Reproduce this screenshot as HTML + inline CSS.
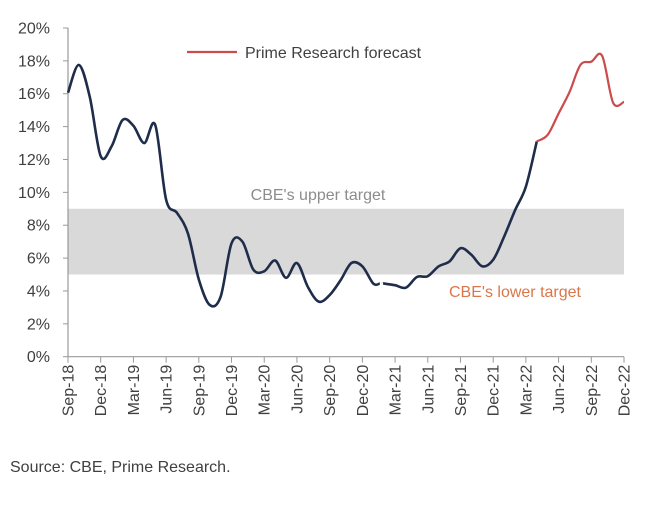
<!DOCTYPE html>
<html><head><meta charset="utf-8"><style>
body{margin:0;background:#fff;font-family:"Liberation Sans",sans-serif}
svg text{font-family:"Liberation Sans",sans-serif}
</style></head><body>
<svg id="c" width="649" height="506" viewBox="0 0 649 506"></svg>
<script>
const months=["Sep-18","Oct-18","Nov-18","Dec-18","Jan-19","Feb-19","Mar-19","Apr-19","May-19","Jun-19","Jul-19","Aug-19","Sep-19","Oct-19","Nov-19","Dec-19","Jan-20","Feb-20","Mar-20","Apr-20","May-20","Jun-20","Jul-20","Aug-20","Sep-20","Oct-20","Nov-20","Dec-20","Jan-21","Feb-21","Mar-21","Apr-21","May-21","Jun-21","Jul-21","Aug-21","Sep-21","Oct-21","Nov-21","Dec-21","Jan-22","Feb-22","Mar-22","Apr-22","May-22","Jun-22","Jul-22","Aug-22","Sep-22","Oct-22","Nov-22","Dec-22"];
const actual=[16.06,17.75,15.8,12.2,12.8,14.4,14.05,13.0,14.1,9.55,8.75,7.5,4.7,3.15,3.65,6.9,7.0,5.3,5.2,5.85,4.8,5.7,4.25,3.35,3.75,4.65,5.7,5.5,4.45,4.45,4.35,4.2,4.85,4.9,5.5,5.8,6.6,6.2,5.5,5.9,7.3,8.9,10.35,13.1];
const forecast=[13.1,13.5,14.8,16.1,17.75,17.95,18.3,15.45,15.5];
const forecastStart=43;
const yTicks=[0,2,4,6,8,10,12,14,16,18,20];
const xLabelIdx=[0,3,6,9,12,15,18,21,24,27,30,33,36,39,42,45,48,51];
const bandLow=5, bandHigh=9;
const gapAfter=28;

const NS="http://www.w3.org/2000/svg";
const svg=document.getElementById('c');
const x0=68,x1=624,y0=356.7,y1=28;
const X=i=>x0+(x1-x0)*i/(months.length-1);
const Y=v=>y0-(y0-y1)*v/20;
function mk(t,a,p){const e=document.createElementNS(NS,t);for(const k in a)e.setAttribute(k,a[k]);(p||svg).appendChild(e);return e;}
function smooth(pts){let d=`M${pts[0][0]},${pts[0][1]}`;for(let i=0;i<pts.length-1;i++){const p0=pts[i-1]||pts[i],p1=pts[i],p2=pts[i+1],p3=pts[i+2]||p2;
d+=` C${p1[0]+(p2[0]-p0[0])/6},${p1[1]+(p2[1]-p0[1])/6} ${p2[0]-(p3[0]-p1[0])/6},${p2[1]-(p3[1]-p1[1])/6} ${p2[0]},${p2[1]}`;}return d;}

let e=mk('rect',{x:x0,y:Y(bandHigh),width:x1-x0,height:Y(bandLow)-Y(bandHigh),fill:'#d9d9d9'});

e=mk('text',{x:318,y:200,'font-size':16,fill:'#8c8c8c','text-anchor':'middle'});e.textContent="CBE's upper target";

e=mk('text',{x:515,y:297,'font-size':16,fill:'#d9774a','text-anchor':'middle'});e.textContent="CBE's lower target";


e=mk('line',{x1:x0,y1:y1,x2:x0,y2:y0,stroke:'#999','stroke-width':1.2});

e=mk('line',{x1:x0,y1:y0,x2:x1,y2:y0,stroke:'#999','stroke-width':1.2});

yTicks.forEach(v=>{
 mk('line',{x1:x0-5,y1:Y(v),x2:x0,y2:Y(v),stroke:'#999'});
 const t=mk('text',{x:50,y:Y(v)+5.5,'font-size':16,fill:'#404040','text-anchor':'end'});t.textContent=v+'%';
 
});
xLabelIdx.forEach(i=>{
 mk('line',{x1:X(i),y1:y0,x2:X(i),y2:y0+6,stroke:'#999'});
 const t=mk('text',{x:0,y:0,'font-size':16,fill:'#404040','text-anchor':'end',transform:`translate(${X(i)+5.5},${y0+8}) rotate(-90)`});t.textContent=months[i];
 
});
const a1=actual.slice(0,gapAfter+1).map((v,i)=>[X(i),Y(v)]);
const a2=actual.slice(gapAfter+1).map((v,i)=>[X(i+gapAfter+1),Y(v)]);
a1.push([X(gapAfter+0.6),Y(actual[gapAfter])]);
a2.unshift([X(gapAfter+0.9),Y(actual[gapAfter+1])]);
[a1,a2].forEach(p=>{const l=mk('path',{d:smooth(p),fill:'none',stroke:'#1f2d4b','stroke-width':2.6,'stroke-linejoin':'round'});
 });
e=mk('path',{d:smooth(forecast.map((v,i)=>[X(i+forecastStart),Y(v)])),fill:'none',stroke:'#cc4b4b','stroke-width':2.2});


const lg=mk('g',{});
mk('line',{x1:187,y1:52,x2:237,y2:52,stroke:'#cc4b4b','stroke-width':2.2},lg);
e=mk('text',{x:245,y:58,'font-size':16,fill:'#404040'},lg);e.textContent='Prime Research forecast';

e=mk('text',{x:10,y:472,'font-size':16,fill:'#404040'});e.textContent='Source: CBE, Prime Research.';

</script>
</body></html>
